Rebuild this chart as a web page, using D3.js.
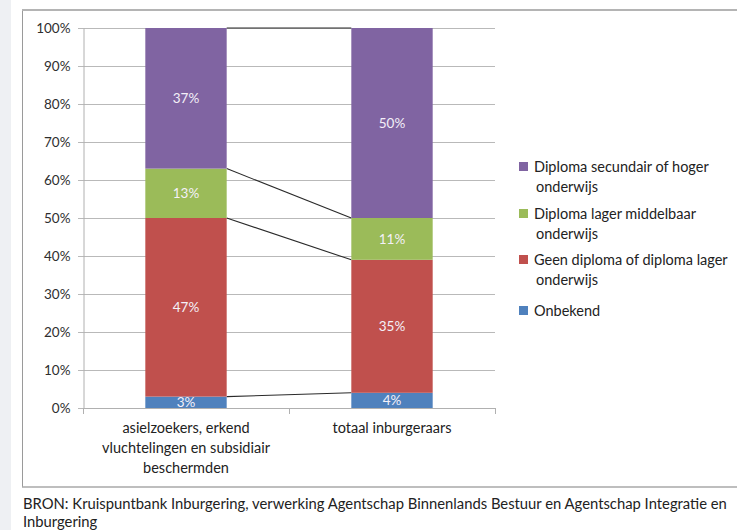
<!DOCTYPE html>
<html>
<head>
<meta charset="utf-8">
<script src="https://cdn.jsdelivr.net/npm/d3@7"></script>
<style>
  html, body { margin: 0; padding: 0; background: #ffffff; }
  svg { display: block; }
  text { font-family: Lato, "Open Sans", sans-serif; }
</style>
</head>
<body>
<svg id="chart" width="737" height="530"></svg>
<script>
// Education level of new integration participants (shares in %)
const categories = ["asielzoekers, erkend vluchtelingen en subsidiair beschermden", "totaal inburgeraars"];
const categoryLines = [["asielzoekers, erkend", "vluchtelingen en subsidiair", "beschermden"], ["totaal inburgeraars"]];
const seriesNames = ["Onbekend", "Geen diploma of diploma lager onderwijs", "Diploma lager middelbaar onderwijs", "Diploma secundair of hoger onderwijs"];
const legendLines = [["Onbekend"], ["Geen diploma of diploma lager", "onderwijs"], ["Diploma lager middelbaar", "onderwijs"], ["Diploma secundair of hoger", "onderwijs"]];
const onbekend = [3, 4];
const geenDiploma = [47, 35];
const lagerMiddelbaar = [13, 11];
const secundairHoger = [37, 50];
const yTicks = [0, 10, 20, 30, 40, 50, 60, 70, 80, 90, 100];
const colors = ["#4F81BD", "#C0504D", "#9BBB59", "#8064A2"];
const sourceLines = ["BRON: Kruispuntbank Inburgering, verwerking Agentschap Binnenlands Bestuur en Agentschap Integratie en", "Inburgering"];

const seriesValues = [onbekend, geenDiploma, lagerMiddelbaar, secundairHoger];

const svg = d3.select("#chart");

// page background strip and chart frame
svg.append("rect").attr("x", 0).attr("y", 0).attr("width", 11).attr("height", 530).attr("fill", "#eef0f3");
svg.append("line").attr("x1", 22.5).attr("x2", 22.5).attr("y1", 10).attr("y2", 487).attr("stroke", "#9a9a9a").attr("stroke-width", 1);
svg.append("line").attr("x1", 22).attr("x2", 737).attr("y1", 10).attr("y2", 10).attr("stroke", "#b4b4b4").attr("stroke-width", 2);
svg.append("line").attr("x1", 22).attr("x2", 737).attr("y1", 487).attr("y2", 487).attr("stroke", "#a8a8a8").attr("stroke-width", 1.5);

const plot = { left: 83, right: 495, top: 28, bottom: 408 };

const x = d3.scaleBand().domain(categories).range([plot.left, plot.right]).paddingInner(0.605).paddingOuter(0.3025);
const y = d3.scaleLinear().domain([0, 100]).range([plot.bottom, plot.top]);

// gridlines
svg.append("g")
  .selectAll("line")
  .data(yTicks)
  .join("line")
  .attr("x1", plot.left - 5).attr("x2", plot.right)
  .attr("y1", d => Math.round(y(d)) + 0.5).attr("y2", d => Math.round(y(d)) + 0.5)
  .attr("stroke", "#b9b9b9").attr("stroke-width", 1.2);

// y axis
const yAxis = svg.append("g")
  .attr("transform", `translate(${plot.left + 0.5},0)`)
  .call(d3.axisLeft(y).tickValues(yTicks).tickFormat(d => d + "%").tickSize(0).tickPadding(13));
yAxis.select(".domain").attr("stroke", "#b0b0b0");
yAxis.selectAll("text").attr("font-size", 13.5).attr("fill", "#2e2e2e").attr("font-family", "Lato, sans-serif");

// x axis line with ticks at band boundaries
const boundaries = [plot.left, plot.left + (plot.right - plot.left) / 2, plot.right];
svg.append("line").attr("x1", plot.left).attr("x2", plot.right)
  .attr("y1", plot.bottom + 0.5).attr("y2", plot.bottom + 0.5).attr("stroke", "#b0b0b0");
svg.append("g").selectAll("line").data(boundaries).join("line")
  .attr("x1", d => Math.round(d) + 0.5).attr("x2", d => Math.round(d) + 0.5)
  .attr("y1", plot.bottom).attr("y2", plot.bottom + 6)
  .attr("stroke", "#b0b0b0");

// stacked data
const rows = categories.map((c, i) => {
  const r = { category: c };
  seriesNames.forEach((s, k) => { r[s] = seriesValues[k][i]; });
  return r;
});
const stacked = d3.stack().keys(seriesNames)(rows);

// series lines between bars
const connectors = svg.append("g");
stacked.forEach(layer => {
  connectors.append("line")
    .attr("x1", x(categories[0]) + x.bandwidth()).attr("y1", y(layer[0][1]))
    .attr("x2", x(categories[1])).attr("y2", y(layer[1][1]))
    .attr("stroke", "#2a2a2a").attr("stroke-width", 1.1);
});

// bars
const barGroups = svg.append("g").selectAll("g")
  .data(stacked)
  .join("g")
  .attr("fill", (d, i) => colors[i]);

barGroups.selectAll("rect")
  .data(d => d)
  .join("rect")
  .attr("x", d => x(d.data.category))
  .attr("y", d => y(d[1]))
  .attr("width", x.bandwidth())
  .attr("height", d => y(d[0]) - y(d[1]));

// value labels
stacked.forEach((layer, k) => {
  svg.append("g").selectAll("text")
    .data(layer)
    .join("text")
    .attr("x", d => x(d.data.category) + x.bandwidth() / 2)
    .attr("y", d => (y(d[0]) + y(d[1])) / 2)
    .attr("dy", "0.36em")
    .attr("text-anchor", "middle")
    .attr("font-size", 13.5)
    .attr("fill", "#f4f0f8")
    .text(d => seriesValues[k][categories.indexOf(d.data.category)] + "%");
});

// category labels
categories.forEach((c, i) => {
  const t = svg.append("text")
    .attr("x", x(c) + x.bandwidth() / 2)
    .attr("y", 433)
    .attr("text-anchor", "middle")
    .attr("font-size", 14.5)
    .attr("fill", "#222");
  categoryLines[i].forEach((line, j) => {
    t.append("tspan").attr("x", x(c) + x.bandwidth() / 2).attr("dy", j === 0 ? 0 : 20).text(line);
  });
});

// legend, top entry first
const legendOrder = [3, 2, 1, 0];
const legendY = [167, 214, 260, 311];
legendOrder.forEach((k, idx) => {
  const g = svg.append("g").attr("transform", `translate(519,${legendY[idx]})`);
  g.append("rect").attr("x", 0).attr("y", -5).attr("width", 9).attr("height", 9).attr("fill", colors[k]);
  const t = g.append("text").attr("x", 15).attr("y", 0)
    .attr("font-size", 14.5).attr("fill", "#222");
  legendLines[k].forEach((line, j) => {
    t.append("tspan").attr("x", j === 0 ? 15 : 17).attr("dy", j === 0 ? "0.36em" : 20).text(line);
  });
});

// source note
sourceLines.forEach((line, j) => {
  svg.append("text").attr("x", 23).attr("y", 509 + j * 18)
    .attr("font-size", 14.8).attr("fill", "#222").text(line);
});
</script>
</body>
</html>
